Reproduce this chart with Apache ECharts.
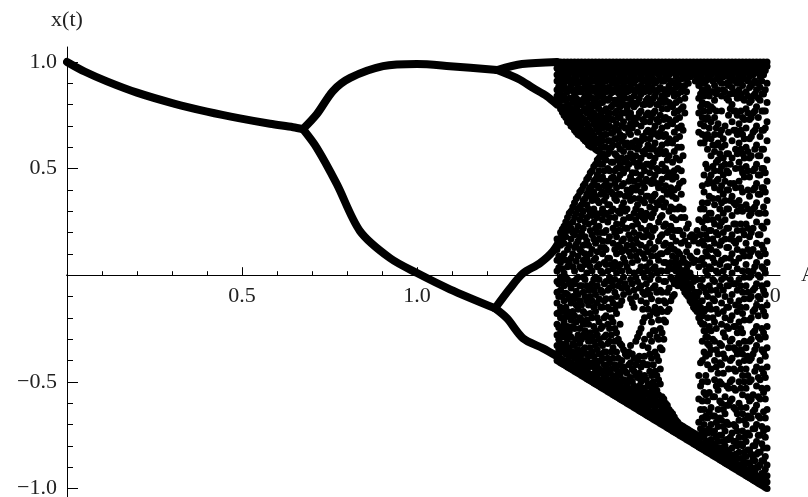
<!DOCTYPE html>
<html>
<head>
<meta charset="utf-8">
<script src="https://cdn.jsdelivr.net/npm/echarts@6/dist/echarts.min.js"></script>
<style>
html, body { margin: 0; padding: 0; background: #fff; }
#chart { width: 808px; height: 497px; }
</style>
</head>
<body>
<div id="chart"></div>
<script>
// smooth branches: [A, x]
let branchMain = [[0, 1.0], [0.05, 0.955], [0.114, 0.909], [0.2, 0.856], [0.303, 0.806], [0.4, 0.767], [0.494, 0.735], [0.58, 0.71], [0.646, 0.694], [0.674, 0.685]];
let branchUpper = [[0.674, 0.685], [0.714, 0.756], [0.76, 0.864], [0.809, 0.925], [0.903, 0.98], [1.0, 0.99], [1.094, 0.98], [1.229, 0.962]];
let branchUpperTop = [[1.229, 0.962], [1.3, 0.99], [1.4, 1.0]];
let branchUpperLow = [[1.229, 0.962], [1.29, 0.92], [1.331, 0.878], [1.37, 0.84], [1.40, 0.80]];
let branchLower = [[0.674, 0.685], [0.714, 0.596], [0.771, 0.427], [0.837, 0.207], [0.923, 0.08], [1.0, 0.01], [1.094, -0.066], [1.223, -0.155]];
let branchLowerUp = [[1.223, -0.155], [1.266, -0.061], [1.303, 0.009], [1.351, 0.056], [1.389, 0.113], [1.417, 0.19]];
let branchLowerLow = [[1.223, -0.155], [1.257, -0.202], [1.303, -0.296], [1.36, -0.343], [1.40, -0.38]];

// chaotic region: one column of x values per A
let chaosA = [1.40, 1.41, 1.42, 1.43, 1.44, 1.45, 1.46, 1.47, 1.48, 1.49, 1.50, 1.51, 1.52,
    1.53, 1.54, 1.55, 1.56, 1.57, 1.58, 1.59, 1.60, 1.61, 1.62, 1.63, 1.64, 1.65, 1.66, 1.67, 1.68, 1.69, 1.70, 1.71, 1.72, 1.73,
    1.74, 1.75, 1.76, 1.77, 1.78, 1.79, 1.80, 1.81,
    1.82, 1.83, 1.84, 1.85, 1.86, 1.87, 1.88, 1.89, 1.90, 1.91, 1.92, 1.93, 1.94, 1.95, 1.96, 1.97, 1.98, 1.99, 2.00];
let chaosX = [
    [1, .97, .94, .91, .87, .84, .81, .17, .12, .07, .02, -.03, -.08, -.13, -.18, -.23, -.28, -.33, -.37, -.40],
    [1, .98, .95, .90, .86, .82, .78, .20, .14, .06, -.01, -.07, -.15, -.20, -.27, -.32, -.36, -.39, -.41],
    [1, .97, .93, .89, .84, .79, .75, .23, .15, .10, .01, -.05, -.12, -.22, -.26, -.34, -.40, -.42],
    [1, .98, .94, .91, .86, .80, .76, .72, .27, .21, .12, .04, -.02, -.09, -.17, -.24, -.30, -.36, -.40, -.43],
    [1, .97, .95, .89, .83, .78, .74, .70, .30, .22, .17, .08, -.06, -.13, -.21, -.29, -.38, -.41, -.44],
    [1, .98, .93, .90, .85, .81, .75, .71, .68, .34, .27, .19, .13, .02, -.04, -.11, -.19, -.25, -.33, -.39, -.42, -.45],
    [1, .97, .94, .88, .82, .77, .72, .66, .37, .31, .23, .16, .09, -.01, -.09, -.16, -.28, -.35, -.40, -.43, -.46],
    [1, .98, .95, .91, .86, .80, .74, .69, .65, .40, .33, .28, .20, .11, .03, -.05, -.14, -.21, -.30, -.37, -.41, -.44, -.47],
    [1, .97, .93, .89, .84, .78, .73, .68, .63, .43, .36, .25, .18, .10, .05, -.02, -.10, -.18, -.26, -.34, -.42, -.45, -.48],
    [1, .98, .95, .90, .85, .80, .76, .70, .65, .61, .46, .40, .31, .24, .14, .06, -.07, -.14, -.23, -.31, -.38, -.43, -.46, -.49],
    [1, .97, .94, .88, .83, .79, .73, .67, .62, .60, .49, .42, .35, .28, .19, .12, .02, -.04, -.12, -.20, -.29, -.36, -.41, -.47, -.50],
    [1, .98, .95, .91, .86, .81, .75, .70, .64, .59, .52, .45, .37, .29, .22, .15, .08, -.01, -.09, -.17, -.26, -.33, -.40, -.45, -.48, -.51],
    [1, .97, .93, .89, .84, .78, .72, .67, .62, .58, .55, .49, .41, .34, .23, .17, .05, -.02, -.11, -.22, -.30, -.37, -.44, -.49, -.52],
    [1, .98, .94, .90, .85, .81, .74, .69, .63, .57, .52, .46, .39, .31, .26, .16, .10, .01, -.08, -.15, -.24, -.33, -.39, -.45, -.50, -.53],
    [1, .97, .95, .91, .86, .78, .72, .66, .60, .54, .44, .37, .29, .21, .12, .05, -.03, -.11, -.19, -.28, -.36, -.43, -.48, -.51, -.54],
    [1, .98, .93, .88, .83, .76, .70, .63, .58, .49, .42, .33, .27, .18, .08, -.01, -.06, -.16, -.25, -.31, -.41, -.46, -.52, -.55],
    [1, .97, .94, .90, .86, .80, .73, .67, .61, .53, .46, .38, .31, .22, .15, .03, -.05, -.13, -.22, -.34, -.39, -.47, -.50, -.53, -.56],
    [1, .98, .95, .89, .82, .77, .71, .64, .56, .50, .41, .35, .24, .18, .10, .01, -.10, -.18, -.27, -.36, -.44, -.49, -.54, -.57],
    [1, .97, .93, .88, .84, .79, .74, .66, .59, .52, .47, .38, .29, .21, .13, .05, -.03, -.14, -.23, -.32, -.42, -.47, -.52, -.55, -.58],
    [1, .98, .94, .90, .85, .80, .72, .65, .58, .48, .43, .34, .26, .17, .08, -.01, -.09, -.35, -.43, -.49, -.53, -.56, -.59],
    [1, .97, .95, .91, .86, .78, .69, .62, .55, .50, .40, .31, .22, .14, .04, -.06, -.38, -.46, -.51, -.55, -.57, -.60],
    [1, .98, .93, .89, .83, .76, .71, .66, .57, .46, .39, .35, .27, .17, .09, -.02, -.11, -.33, -.41, -.48, -.54, -.58, -.61],
    [1, .97, .94, .90, .84, .79, .73, .60, .53, .44, .36, .29, .20, .12, .01, -.07, -.15, -.39, -.45, -.52, -.56, -.59, -.62],
    [1, .98, .95, .88, .81, .74, .67, .59, .51, .42, .33, .24, .15, .07, -.03, -.29, -.40, -.48, -.54, -.57, -.60, -.63],
    [1, .97, .93, .89, .85, .77, .70, .63, .55, .47, .39, .30, .22, .14, .04, -.05, -.12, -.25, -.43, -.50, -.55, -.58, -.61, -.64],
    [1, .98, .95, .91, .86, .80, .72, .64, .57, .49, .41, .34, .26, .18, .08, -.01, -.09, -.20, -.30, -.38, -.47, -.53, -.59, -.62, -.65],
    [1, .97, .94, .89, .83, .76, .68, .61, .52, .44, .37, .28, .19, .11, .02, -.07, -.16, -.34, -.42, -.51, -.56, -.60, -.63, -.66],
    [1, .98, .93, .88, .81, .74, .66, .59, .51, .43, .35, .27, .18, .09, .00, -.11, -.22, -.31, -.39, -.47, -.54, -.59, -.64, -.67],
    [1, .97, .95, .90, .84, .77, .70, .62, .55, .47, .38, .31, .22, .13, .04, -.05, -.15, -.26, -.36, -.45, -.52, -.58, -.62, -.65, -.68],
    [1, .98, .94, .87, .80, .72, .65, .57, .49, .41, .33, .25, .16, .07, -.02, -.12, -.21, -.30, -.40, -.49, -.56, -.61, -.66, -.69],
    [1, .97, .95, .91, .84, .78, .69, .61, .52, .45, .36, .28, .19, .10, .02, -.08, -.17, -.27, -.35, -.57, -.62, -.64, -.67, -.70],
    [1, .98, .93, .87, .82, .74, .66, .58, .50, .42, .34, .24, .15, .06, -.03, -.13, -.22, -.60, -.64, -.68, -.71],
    [1, .97, .94, .89, .81, .73, .64, .56, .48, .39, .30, .21, .12, .04, -.06, -.16, -.63, -.66, -.69, -.72],
    [1, .98, .95, .86, .79, .71, .62, .53, .45, .37, .27, .18, .09, .03, -.02, -.10, -.65, -.68, -.70, -.73],
    [1, .97, .93, .88, .81, .73, .64, .55, .46, .36, .26, .16, .08, .05, .02, -.03, -.68, -.71, -.74],
    [1, .98, .95, .89, .82, .74, .65, .54, .43, .32, .21, .10, .03, .00, -.03, -.70, -.72, -.75],
    [1, .97, .94, .88, .79, .68, .56, .44, .31, .19, .08, .01, -.03, -.06, -.71, -.73, -.76],
    [1, .98, .95, .92, .86, .22, .11, .03, -.02, -.06, -.09, -.72, -.74, -.77],
    [1, .98, .95, .93, .18, .09, .01, -.05, -.09, -.12, -.73, -.75, -.78],
    [1, .98, .95, .16, .06, -.03, -.09, -.12, -.15, -.74, -.76, -.79],
    [1, .98, .95, .91, .21, .11, -.02, -.10, -.14, -.17, -.75, -.77, -.80],
    [1, .97, .94, .90, .85, .79, .71, .62, .31, .19, .07, -.05, -.15, -.19, -.22, -.41, -.52, -.63, -.72, -.76, -.79, -.81],
    [1, .98, .95, .90, .84, .77, .70, .62, .47, .39, .31, .22, .14, .05, -.06, -.17, -.23, -.26, -.36, -.55, -.63, -.70, -.76, -.79, -.82],
    [1, .97, .93, .88, .80, .74, .66, .59, .50, .43, .34, .26, .17, .09, .00, -.10, -.20, -.29, -.32, -.42, -.50, -.59, -.67, -.74, -.78, -.80, -.83],
    [1, .98, .94, .86, .79, .72, .64, .56, .47, .29, .21, .12, .03, -.07, -.16, -.26, -.35, -.44, -.62, -.70, -.77, -.81, -.84],
    [1, .97, .95, .89, .82, .74, .66, .58, .49, .41, .33, .24, .15, .06, -.03, -.12, -.22, -.31, -.40, -.49, -.57, -.66, -.73, -.79, -.82, -.85],
    [1, .98, .93, .87, .71, .62, .54, .45, .36, .27, .19, .10, .01, -.09, -.18, -.37, -.46, -.54, -.63, -.71, -.78, -.83, -.86],
    [1, .97, .94, .90, .84, .77, .68, .60, .51, .42, .34, .25, .16, .07, -.02, -.13, -.23, -.33, -.42, -.51, -.60, -.68, -.75, -.81, -.84, -.87],
    [1, .98, .95, .86, .70, .61, .52, .44, .35, .26, .17, .08, -.01, -.10, -.20, -.29, -.39, -.57, -.65, -.73, -.80, -.85, -.88],
    [1, .97, .93, .89, .82, .75, .67, .57, .48, .40, .31, .22, .13, .04, -.05, -.15, -.25, -.34, -.44, -.53, -.61, -.70, -.77, -.83, -.86, -.89],
    [1, .98, .94, .88, .80, .72, .63, .55, .37, .28, .19, .10, .01, -.09, -.19, -.30, -.39, -.49, -.58, -.74, -.81, -.87, -.90],
    [1, .97, .95, .91, .85, .77, .68, .59, .50, .41, .33, .24, .15, .06, -.04, -.14, -.24, -.35, -.45, -.54, -.63, -.71, -.78, -.84, -.88, -.91],
    [1, .98, .93, .87, .71, .62, .53, .44, .35, .17, .08, -.02, -.12, -.22, -.32, -.41, -.50, -.60, -.68, -.76, -.83, -.89, -.92],
    [1, .97, .94, .89, .83, .74, .66, .57, .48, .39, .30, .21, .11, .02, -.08, -.18, -.27, -.37, -.47, -.56, -.65, -.73, -.80, -.86, -.90, -.93],
    [1, .98, .95, .86, .78, .69, .60, .51, .33, .24, .15, .05, -.05, -.15, -.34, -.44, -.53, -.62, -.70, -.78, -.85, -.91, -.94],
    [1, .97, .93, .88, .81, .73, .64, .55, .46, .37, .28, .18, .09, -.01, -.11, -.21, -.31, -.40, -.50, -.59, -.67, -.75, -.82, -.88, -.92, -.95],
    [1, .98, .94, .90, .84, .76, .67, .49, .40, .31, .22, .12, .02, -.07, -.17, -.27, -.37, -.56, -.64, -.72, -.80, -.86, -.93, -.96],
    [1, .97, .95, .87, .79, .70, .61, .52, .43, .34, .25, .15, .06, -.04, -.14, -.24, -.33, -.43, -.52, -.61, -.70, -.78, -.84, -.90, -.94, -.97],
    [1, .98, .93, .88, .82, .65, .56, .47, .38, .29, .19, .09, -.01, -.11, -.30, -.40, -.49, -.58, -.67, -.75, -.83, -.89, -.95, -.98],
    [1, .97, .94, .85, .77, .68, .59, .50, .41, .32, .22, .12, .03, -.07, -.17, -.27, -.36, -.46, -.55, -.64, -.73, -.81, -.87, -.93, -.96, -.99],
    [1, .98, .90, .81, .72, .63, .54, .44, .35, .25, .16, .06, -.04, -.14, -.24, -.34, -.43, -.53, -.63, -.72, -.81, -.89, -.94, -.97, -1.0]
];

// second pass of columns, between the first ones
let chaosA2 = [1.405, 1.415, 1.425, 1.435, 1.445, 1.455, 1.465, 1.475, 1.485, 1.495, 1.505, 1.515, 1.525,
    1.535, 1.545, 1.555, 1.565, 1.575, 1.585, 1.595, 1.605, 1.615, 1.625, 1.635, 1.645, 1.655, 1.665, 1.675, 1.685, 1.695, 1.705, 1.715, 1.725, 1.735,
    1.745, 1.755, 1.765, 1.775, 1.785, 1.795, 1.805,
    1.815, 1.825, 1.835, 1.845, 1.855, 1.865, 1.875, 1.885, 1.895, 1.905, 1.915, 1.925, 1.935, 1.945, 1.955, 1.965, 1.975, 1.985, 1.995];
let chaosX2 = [
    [.985, .955, .925, .885, .85, .805, .16, .09, .035, -.04, -.10, -.175, -.245, -.30, -.35, -.395, -.405],
    [.985, .96, .92, .875, .83, .79, .765, .215, .17, .08, .03, -.03, -.10, -.17, -.24, -.29, -.35, -.40, -.415],
    [.99, .955, .915, .87, .82, .775, .74, .25, .18, .07, -.01, -.085, -.15, -.195, -.28, -.32, -.37, -.41, -.425],
    [.985, .96, .92, .875, .83, .785, .74, .715, .29, .24, .14, .06, -.04, -.11, -.19, -.265, -.34, -.38, -.415, -.435],
    [.99, .955, .91, .865, .81, .76, .715, .695, .32, .25, .20, .10, .04, -.03, -.10, -.17, -.24, -.32, -.36, -.425, -.445],
    [.985, .96, .915, .87, .83, .785, .73, .695, .67, .36, .29, .21, .145, .065, -.02, -.075, -.14, -.22, -.30, -.37, -.42, -.455],
    [.99, .955, .905, .86, .80, .75, .70, .665, .655, .39, .32, .26, .18, .12, .04, -.05, -.12, -.20, -.25, -.32, -.38, -.435, -.465],
    [.985, .96, .925, .875, .825, .77, .715, .67, .64, .42, .35, .30, .22, .14, .07, -.01, -.08, -.17, -.23, -.28, -.35, -.40, -.445, -.475],
    [.99, .955, .915, .87, .815, .76, .71, .66, .625, .45, .38, .33, .27, .16, .08, .01, -.05, -.12, -.21, -.29, -.37, -.40, -.455, -.485],
    [.985, .96, .92, .875, .835, .78, .74, .68, .635, .605, .48, .41, .37, .29, .21, .10, .04, -.06, -.10, -.18, -.27, -.34, -.42, -.465, -.495],
    [.99, .955, .91, .865, .81, .76, .71, .655, .61, .51, .44, .39, .31, .25, .17, .07, -.02, -.07, -.15, -.24, -.31, -.38, -.43, -.475, -.505],
    [.985, .96, .925, .885, .835, .79, .735, .685, .63, .585, .54, .47, .42, .35, .27, .20, .11, .04, -.05, -.13, -.20, -.28, -.35, -.42, -.465, -.515],
    [.99, .955, .91, .865, .81, .755, .70, .645, .60, .57, .52, .45, .38, .29, .20, .13, .02, -.07, -.15, -.25, -.32, -.40, -.46, -.505, -.525],
    [.985, .96, .92, .875, .83, .77, .715, .66, .60, .55, .49, .42, .35, .285, .20, .13, .06, -.04, -.12, -.20, -.29, -.36, -.42, -.48, -.515, -.535],
    [.99, .955, .93, .88, .82, .745, .69, .63, .57, .50, .40, .33, .25, .16, .08, .02, -.07, -.15, -.23, -.32, -.39, -.455, -.50, -.525, -.545],
    [.985, .96, .91, .855, .79, .73, .665, .60, .53, .455, .39, .30, .05, -.03, -.11, -.20, -.28, -.36, -.44, -.49, -.535, -.555],
    [.99, .955, .92, .87, .82, .76, .69, .64, .57, .49, .43, .36, .27, .20, .12, .06, -.02, -.08, -.16, -.25, -.31, -.42, -.48, -.52, -.545, -.565],
    [.985, .96, .91, .855, .80, .74, .68, .61, .54, .45, .38, .30, .21, .14, .04, -.05, -.14, -.30, -.39, -.46, -.51, -.55, -.575],
    [.99, .955, .915, .865, .82, .76, .70, .63, .55, .50, .42, .32, .24, .16, .11, .02, -.06, -.12, -.33, -.40, -.45, -.50, -.545, -.565, -.585],
    [.985, .96, .92, .88, .83, .76, .69, .61, .53, .37, .30, .22, .12, .06, -.04, -.37, -.45, -.50, -.54, -.575, -.595],
    [.99, .955, .91, .865, .80, .74, .67, .60, .52, .44, .37, .27, .19, .11, .02, -.08, -.36, -.42, -.49, -.53, -.565, -.59, -.605],
    [.985, .96, .92, .87, .81, .74, .69, .62, .55, .48, .41, .23, .14, .06, -.04, -.13, -.37, -.44, -.50, -.55, -.58, -.615],
    [.99, .955, .915, .86, .80, .71, .63, .56, .48, .40, .31, .26, .17, .09, -.01, -.10, -.31, -.42, -.47, -.53, -.57, -.60, -.625],
    [.985, .96, .92, .87, .83, .76, .61, .53, .45, .36, .28, .19, .11, .02, -.06, -.27, -.38, -.46, -.52, -.56, -.59, -.615, -.635],
    [.99, .955, .91, .87, .80, .73, .65, .58, .51, .43, .35, .27, .18, .10, .01, -.08, -.16, -.22, -.33, -.41, -.48, -.53, -.57, -.60, -.625, -.645],
    [.985, .96, .92, .88, .82, .75, .67, .59, .52, .45, .37, .29, .21, .13, .04, -.04, -.13, -.42, -.49, -.55, -.59, -.615, -.635, -.655],
    [.99, .955, .91, .86, .80, .72, .64, .56, .48, .32, .23, .15, .06, -.02, -.09, -.19, -.28, -.37, -.45, -.52, -.57, -.61, -.645, -.665],
    [.985, .96, .92, .87, .83, .76, .68, .60, .53, .45, .37, .29, .21, .12, .03, -.06, -.17, -.26, -.42, -.50, -.56, -.61, -.64, -.675],
    [.99, .955, .91, .86, .80, .73, .66, .58, .50, .43, .34, .09, .01, -.08, -.18, -.29, -.38, -.47, -.54, -.60, -.645, -.665, -.685],
    [.985, .96, .92, .88, .82, .75, .67, .59, .43, .35, .27, .18, .10, .02, -.07, -.16, -.25, -.34, -.44, -.51, -.59, -.64, -.675, -.695],
    [.99, .955, .91, .87, .81, .73, .65, .57, .49, .40, .32, .23, .14, .06, -.03, -.12, -.21, -.30, -.58, -.63, -.665, -.685, -.705],
    [.985, .96, .92, .85, .78, .70, .62, .54, .46, .38, .20, .11, .02, -.08, -.17, -.61, -.655, -.695, -.715],
    [.99, .955, .91, .87, .80, .72, .63, .47, .41, .32, .23, .14, .06, -.01, -.12, -.64, -.675, -.705, -.725],
    [.985, .96, .90, .84, .76, .67, .58, .49, .40, .31, .21, .12, .06, .03, -.04, -.09, -.665, -.695, -.72, -.735],
    [.99, .955, .91, .85, .77, .69, .60, .50, .41, .31, .21, .11, .05, .03, -.01, -.05, -.69, -.72, -.745],
    [.985, .96, .92, .86, .78, .70, .60, .49, .38, .27, .15, .06, .02, -.02, -.05, -.705, -.73, -.755],
    [.99, .955, .93, .89, .83, .76, .27, .16, .06, .02, -.01, -.05, -.08, -.715, -.74, -.765],
    [.99, .965, .935, .90, .24, .14, .05, .00, -.04, -.07, -.10, -.725, -.75, -.775],
    [.99, .965, .94, .19, .08, -.01, -.06, -.10, -.13, -.735, -.76, -.785],
    [.99, .965, .94, .91, .18, .07, -.02, -.08, -.12, -.16, -.745, -.77, -.795],
    [.99, .965, .935, .89, .83, .76, .67, .26, .15, .04, -.08, -.13, -.17, -.20, -.47, -.58, -.69, -.755, -.78, -.805],
    [.985, .96, .92, .87, .81, .74, .66, .42, .34, .25, .16, .08, -.02, -.12, -.19, -.23, -.31, -.40, -.50, -.59, -.67, -.74, -.79, -.815],
    [.99, .955, .91, .86, .80, .73, .64, .52, .27, .19, .11, .02, -.08, -.16, -.26, -.29, -.38, -.47, -.56, -.66, -.73, -.78, -.80, -.825],
    [.985, .96, .92, .84, .77, .69, .45, .37, .29, .21, .13, .04, -.05, -.14, -.24, -.33, -.37, -.55, -.64, -.72, -.79, -.815, -.835],
    [.99, .955, .91, .86, .78, .61, .51, .43, .36, .26, .17, .08, -.02, -.11, -.20, -.30, -.57, -.66, -.74, -.80, -.825, -.845],
    [.985, .96, .92, .85, .77, .69, .61, .53, .44, .20, .11, .02, -.07, -.16, -.25, -.35, -.43, -.52, -.69, -.76, -.81, -.835, -.855],
    [.99, .955, .91, .66, .57, .49, .40, .31, .23, .14, .05, -.05, -.32, -.41, -.50, -.59, -.67, -.75, -.81, -.845, -.865],
    [.985, .96, .93, .87, .64, .55, .47, .38, .29, .20, .02, -.07, -.17, -.27, -.37, -.46, -.63, -.71, -.78, -.83, -.855, -.875],
    [.99, .955, .90, .83, .57, .49, .40, .31, .22, .13, .04, -.05, -.15, -.24, -.52, -.61, -.69, -.77, -.82, -.865, -.885],
    [.985, .96, .91, .85, .78, .52, .43, .35, .17, .08, -.02, -.12, -.21, -.31, -.40, -.50, -.59, -.76, -.84, -.87, -.895],
    [.99, .955, .92, .86, .77, .68, .43, .34, .24, .16, .06, -.04, -.24, -.34, -.44, -.53, -.62, -.70, -.78, -.85, -.885, -.905],
    [.985, .96, .90, .83, .75, .66, .57, .30, .21, .12, .03, -.07, -.17, -.27, -.37, -.65, -.73, -.80, -.86, -.895, -.915],
    [.99, .955, .91, .85, .77, .68, .59, .50, .41, .32, .24, -.05, -.15, -.25, -.35, -.44, -.53, -.62, -.79, -.86, -.905, -.925],
    [.985, .96, .92, .82, .73, .64, .55, .46, .19, .09, -.01, -.11, -.21, -.31, -.40, -.50, -.68, -.76, -.83, -.88, -.915, -.935],
    [.99, .955, .91, .84, .76, .58, .49, .40, .31, .22, .12, .02, -.08, -.38, -.47, -.57, -.66, -.74, -.82, -.88, -.925, -.945],
    [.985, .96, .89, .82, .74, .65, .56, .29, .20, .11, .00, -.10, -.20, -.30, -.39, -.49, -.58, -.67, -.84, -.90, -.935, -.955],
    [.99, .955, .91, .85, .77, .68, .59, .50, .41, .32, .04, -.06, -.16, -.26, -.35, -.45, -.63, -.72, -.80, -.87, -.92, -.945, -.965],
    [.985, .96, .90, .83, .74, .56, .47, .38, .29, .19, .10, .00, -.10, -.19, -.29, -.48, -.57, -.66, -.75, -.83, -.90, -.955, -.975],
    [.99, .955, .91, .85, .77, .68, .59, .50, .41, .23, .14, .04, -.05, -.15, -.25, -.35, -.44, -.53, -.71, -.79, -.87, -.93, -.965, -.985],
    [.985, .96, .87, .77, .69, .48, .39, .29, .10, .01, -.09, -.19, -.29, -.38, -.48, -.58, -.67, -.76, -.85, -.91, -.96, -.995]
];

let xMinorTicks = [0.1, 0.2, 0.3, 0.4, 0.6, 0.7, 0.8, 0.9, 1.1, 1.2, 1.3, 1.4, 1.6, 1.7, 1.8, 1.9];
let xMajorTicks = [0.5, 1.0, 1.5, 2.0];
let yMinorTicks = [-0.9, -0.8, -0.7, -0.6, -0.4, -0.3, -0.2, -0.1, 0.1, 0.2, 0.3, 0.4, 0.6, 0.7, 0.8, 0.9];
let yMajorTicks = [-1.0, -0.5, 0.5, 1.0];

// the horizontal axis line starts a little left of A = 0
let xAxisStub = [[-0.043, 0], [0, 0]];

let chaosPoints = [];
chaosA.forEach((a, i) => {
    chaosX[i].forEach(x => chaosPoints.push([a, x]));
});
chaosA2.forEach((a, i) => {
    chaosX2[i].forEach(x => chaosPoints.push([a, x]));
});

let serif = 'Liberation Serif';

function branch(data) {
    return {
        type: 'line',
        data: data,
        smooth: 0.3,
        symbol: 'none',
        lineStyle: { color: '#000', width: 8, cap: 'round', join: 'round' },
        z: 3
    };
}

let option = {
    animation: false,
    backgroundColor: '#fff',
    grid: { left: 67, right: 28, top: 47, bottom: 0, outerBoundsMode: 'none', containLabel: false },
    xAxis: [
        {
            type: 'value', min: 0, max: 2.037,
            name: 'A', nameLocation: 'end', nameGap: 21,
            nameTextStyle: { fontFamily: serif, fontSize: 22, color: '#222', align: 'left', verticalAlign: 'middle', padding: [14, 0, 0, 0] },
            axisLine: { onZero: true, lineStyle: { color: '#000', width: 1 } },
            axisTick: { inside: true, length: 4, customValues: xMinorTicks, lineStyle: { color: '#000' } },
            // labels sit at the grid edge, so pull them up to the zero line
            axisLabel: {
                customValues: xMajorTicks, margin: -212,
                formatter: v => v.toFixed(1),
                fontFamily: serif, fontSize: 22, color: '#222'
            },
            splitLine: { show: false }
        },
        {
            type: 'value', min: 0, max: 2.037, position: 'bottom',
            axisLine: { onZero: true, show: false },
            axisTick: { inside: true, length: 8, customValues: xMajorTicks, lineStyle: { color: '#000' } },
            axisLabel: { show: false },
            splitLine: { show: false }
        }
    ],
    yAxis: [
        {
            type: 'value', min: -1.04, max: 1.07,
            name: 'x(t)', nameLocation: 'end', nameGap: 27,
            nameTextStyle: { fontFamily: serif, fontSize: 22, color: '#222', align: 'center', verticalAlign: 'middle' },
            axisLine: { onZero: true, lineStyle: { color: '#000', width: 1 } },
            axisTick: { inside: true, length: 6, customValues: yMinorTicks, lineStyle: { color: '#000' } },
            axisLabel: {
                customValues: yMajorTicks, margin: 10,
                formatter: v => (v < 0 ? '\u2212' : '') + Math.abs(v).toFixed(1),
                fontFamily: serif, fontSize: 22, color: '#222'
            },
            splitLine: { show: false }
        },
        {
            type: 'value', min: -1.04, max: 1.07, position: 'left',
            axisLine: { onZero: true, show: false },
            axisTick: { inside: true, length: 11, customValues: yMajorTicks, lineStyle: { color: '#000' } },
            axisLabel: { show: false },
            splitLine: { show: false }
        }
    ],
    series: [
        {
            type: 'line',
            data: xAxisStub,
            clip: false,
            symbol: 'none',
            silent: true,
            lineStyle: { color: '#000', width: 1 },
            z: 1
        },
        branch(branchMain),
        branch(branchUpper),
        branch(branchUpperTop),
        branch(branchUpperLow),
        branch(branchLower),
        branch(branchLowerUp),
        branch(branchLowerLow),
        {
            type: 'scatter',
            data: chaosPoints,
            symbol: 'circle',
            symbolSize: 7,
            itemStyle: { color: '#000', opacity: 1 },
            z: 3
        }
    ]
};

let chart = echarts.init(document.getElementById('chart'));
chart.setOption(option);
</script>
</body>
</html>
